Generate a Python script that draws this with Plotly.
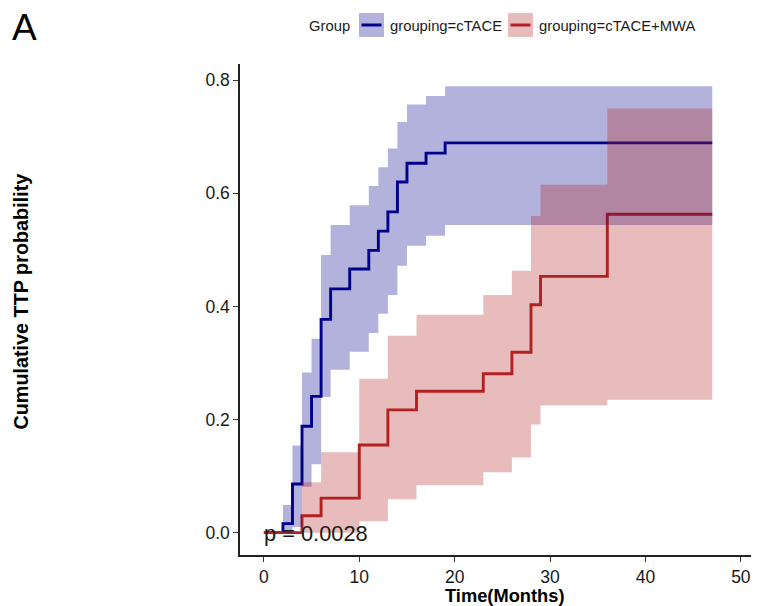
import plotly.graph_objects as go

# ---------------- data ----------------
# cTACE group: step times (months), cumulative event probability, 95% CI
times_ctace = [0, 2, 3, 4, 5, 6, 7, 9, 11, 12, 13, 14, 15, 17, 19, 47]
est_ctace = [0, 0.016, 0.086, 0.188, 0.241, 0.377, 0.431, 0.466, 0.499, 0.533,
             0.567, 0.620, 0.653, 0.671, 0.689, 0.689]
upper_ctace = [0, 0.049, 0.154, 0.283, 0.343, 0.491, 0.544, 0.579, 0.613, 0.646,
               0.679, 0.726, 0.757, 0.772, 0.789, 0.789]
lower_ctace = [0, 0.0, 0.01, 0.081, 0.121, 0.240, 0.288, 0.320, 0.353, 0.387,
               0.420, 0.472, 0.507, 0.525, 0.544, 0.544]

# cTACE+MWA group
times_mwa = [0, 4, 6, 10, 13, 16, 23, 26, 28, 29, 36, 47]
est_mwa = [0, 0.030, 0.061, 0.155, 0.217, 0.250, 0.281, 0.319, 0.403, 0.453, 0.563, 0.563]
upper_mwa = [0, 0.089, 0.142, 0.272, 0.348, 0.385, 0.420, 0.463, 0.560, 0.615, 0.750, 0.750]
lower_mwa = [0, 0.0, 0.0, 0.020, 0.059, 0.084, 0.107, 0.133, 0.191, 0.225, 0.235, 0.235]

x_ticks = [0, 10, 20, 30, 40, 50]
y_ticks = [0.0, 0.2, 0.4, 0.6, 0.8]
group_labels = ["grouping=cTACE", "grouping=cTACE+MWA"]
p_text = "p = 0.0028"

# ---------------- styling ----------------
OFF = 8                      # page body margin of the browser
W, H = 759 - OFF, 606 - OFF
ML, MR, MT, MB = 232, 0, 56, 51
PW, PH = W - ML - MR, H - MT - MB
FONT = "Liberation Sans, Arial, sans-serif"

BLUE = "#00008B"
RED = "#B22222"
BLUE_BAND = "rgba(0,0,139,0.3)"
RED_BAND = "rgba(178,34,34,0.3)"


def px(x):
    """window pixel x -> paper coordinate"""
    return (x - OFF - ML) / PW


def py(y):
    """window pixel y -> paper coordinate"""
    return (H - MB - (y - OFF)) / PH


fig = go.Figure()

# lines first (bands are drawn on top, as in the reference)
fig.add_trace(go.Scatter(x=times_ctace, y=est_ctace, mode="lines",
                         line=dict(color=BLUE, width=2.9, shape="hv"),
                         showlegend=False, hoverinfo="skip"))
fig.add_trace(go.Scatter(x=times_mwa, y=est_mwa, mode="lines",
                         line=dict(color=RED, width=2.9, shape="hv"),
                         showlegend=False, hoverinfo="skip"))

# confidence bands
for t, lo, up, col in [(times_ctace, lower_ctace, upper_ctace, BLUE_BAND),
                       (times_mwa, lower_mwa, upper_mwa, RED_BAND)]:
    fig.add_trace(go.Scatter(x=t, y=lo, mode="lines",
                             line=dict(width=0, shape="hv"),
                             showlegend=False, hoverinfo="skip"))
    fig.add_trace(go.Scatter(x=t, y=up, mode="lines", fill="tonexty",
                             fillcolor=col, line=dict(width=0, shape="hv"),
                             showlegend=False, hoverinfo="skip"))

# ---------------- custom legend ----------------
shapes = []
annotations = []
legend_items = [(359, 384, BLUE_BAND, BLUE, 388, group_labels[0]),
                (508, 533, RED_BAND, RED, 537, group_labels[1])]
for x0, x1, band, line_col, tx, label in legend_items:
    shapes.append(dict(type="rect", xref="paper", yref="paper",
                       x0=px(x0), x1=px(x1), y0=py(37), y1=py(13),
                       fillcolor=band, line=dict(width=0), layer="above"))
    shapes.append(dict(type="line", xref="paper", yref="paper",
                       x0=px(x0 + 2.5), x1=px(x1 - 2.5), y0=py(25), y1=py(25),
                       line=dict(color=line_col, width=3), layer="above"))
    annotations.append(dict(text=label, xref="paper", yref="paper",
                            x=px(tx), y=py(26), xanchor="left", yanchor="middle",
                            showarrow=False,
                            font=dict(family=FONT, size=14.8, color="#1a1a1a")))

annotations.append(dict(text="Group", xref="paper", yref="paper",
                        x=px(307), y=py(26), xanchor="left", yanchor="middle",
                        showarrow=False, font=dict(family=FONT, size=14.8, color="#1a1a1a")))
annotations.append(dict(text="A", xref="paper", yref="paper",
                        x=px(10), y=py(28), xanchor="left", yanchor="middle",
                        showarrow=False, font=dict(family=FONT, size=37, color="black")))

# p-value
annotations.append(dict(text=p_text, xref="x", yref="y", x=0, y=0,
                        xanchor="left", yanchor="middle", showarrow=False,
                        xshift=-2, yshift=-1,
                        font=dict(family=FONT, size=21.8, color="#1a1a1a")))

# axis titles
annotations.append(dict(text="<b>Time(Months)</b>", xref="paper", yref="paper",
                        x=px(505), y=py(596), xanchor="center", yanchor="middle",
                        showarrow=False, font=dict(family=FONT, size=18.3, color="black")))
annotations.append(dict(text="<b>Cumulative TTP probability</b>", xref="paper", yref="paper",
                        x=px(20.5), y=py(302), xanchor="center", yanchor="middle",
                        textangle=-90, showarrow=False,
                        font=dict(family=FONT, size=19.8, color="black")))

fig.update_layout(
    width=W, height=H,
    margin=dict(l=ML, r=MR, t=MT, b=MB, pad=0),
    paper_bgcolor="white", plot_bgcolor="white",
    showlegend=False,
    shapes=shapes, annotations=annotations,
    font=dict(family=FONT, color="black"),
)
fig.update_xaxes(range=[-2.5, 51.9], tickvals=x_ticks, ticktext=[str(v) for v in x_ticks],
                 showgrid=False, zeroline=False, showline=True, linecolor="#222",
                 linewidth=1.5, ticks="outside", ticklen=5, tickwidth=1.2, tickcolor="#333",
                 tickfont=dict(family=FONT, size=17.5, color="#1a1a1a"), automargin=False)
fig.update_yaxes(range=[-0.0395, 0.8285], tickvals=y_ticks,
                 ticktext=[f"{v:.1f}" for v in y_ticks],
                 showgrid=False, zeroline=False, showline=True, linecolor="#222",
                 linewidth=1.5, ticks="outside", ticklen=5, tickwidth=1.2, tickcolor="#333",
                 tickfont=dict(family=FONT, size=17.5, color="#1a1a1a"), automargin=False)

fig.write_html("out.html")
